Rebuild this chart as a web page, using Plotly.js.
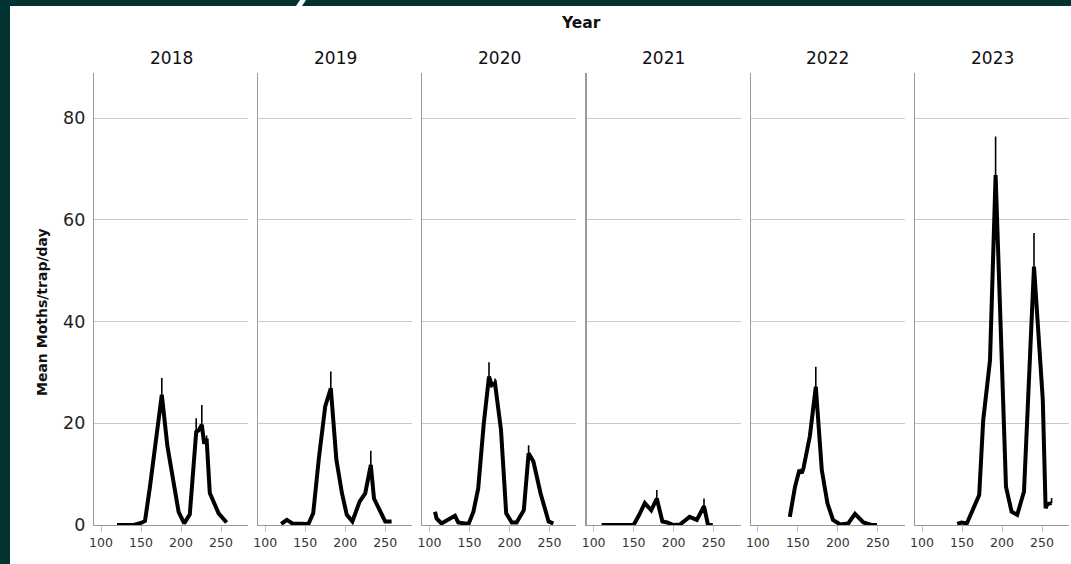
<!DOCTYPE html>
<html>
<head>
<meta charset="utf-8">
<script src="https://cdn.plot.ly/plotly-3.0.1.min.js"></script>
<style>
  html, body { margin: 0; padding: 0; background: #ffffff; overflow: hidden; }
  #chart { width: 1071px; height: 564px; }
</style>
</head>
<body>
<div id="chart"></div>
<script>
// ---- Data ----
const years = ["2018", "2019", "2020", "2021", "2022", "2023"];

const day2018 = [120, 127, 134, 141, 150, 155, 161, 168, 176, 183, 190, 197, 204, 211, 219, 222, 226, 229, 232, 236, 247, 257];
const val2018 = [0, 0, 0, 0, 0.4, 0.8, 7.3, 16, 25.6, 15.5, 9, 2.6, 0.3, 2.1, 18.3, 18.6, 19.7, 16, 17, 6.3, 2.3, 0.5];
const err2018 = [0, 0, 0, 0, 0, 0, 0, 0, 3.3, 0, 0, 0, 0, 0, 2.7, 0, 3.9, 0, 0.6, 0, 0, 0];

const day2019 = [120, 127, 134, 141, 148, 154, 160, 167, 175, 182, 189, 196, 202, 209, 218, 225, 232, 236, 250, 258];
const val2019 = [0.2, 1.0, 0.3, 0.2, 0.2, 0.2, 2.3, 13, 23.3, 26.9, 12.8, 6.2, 2.0, 0.7, 4.6, 6.2, 11.8, 5.2, 0.7, 0.7];
const err2019 = [0, 0, 0, 0, 0, 0, 0, 0, 0, 3.3, 0, 0, 0, 0, 0, 0, 2.8, 0, 0, 0];

const day2020 = [107, 109, 115, 132, 136, 149, 155, 161, 168, 174.5, 178, 182, 189.5, 196, 203, 209, 218, 224, 230, 239, 249, 255];
const val2020 = [2.6, 1.3, 0.3, 1.8, 0.5, 0.2, 2.6, 7.2, 20, 29.2, 27.5, 27.9, 18.7, 2.3, 0.5, 0.5, 2.9, 14.1, 12.5, 6.2, 0.7, 0.3];
const err2020 = [0, 0, 0, 0, 0, 0, 0, 0, 0, 2.8, 0, 0.9, 0, 0, 0, 0, 0, 1.6, 0, 0, 0, 0];

const day2021 = [110, 120, 130, 140, 150, 157, 164, 172, 179, 186, 192, 200, 208, 220, 229, 238, 243, 249];
const val2021 = [0, 0, 0, 0, 0, 2.0, 4.3, 2.9, 5.2, 0.7, 0.5, 0, 0.1, 1.6, 1.0, 3.7, 0, 0];
const err2021 = [0, 0, 0, 0, 0, 0, 0, 0, 1.7, 0, 0, 0, 0, 0, 0, 1.5, 0, 0];

const day2022 = [140, 146.5, 152, 155, 157, 165, 172.5, 180, 187, 194, 203, 213, 221.5, 232, 242, 249];
const val2022 = [1.6, 7.5, 10.8, 10.2, 11.1, 17.4, 27.2, 10.8, 4.3, 1.0, 0.1, 0.3, 2.2, 0.5, 0, 0];
const err2022 = [0, 0, 0, 0.8, 0, 0, 3.9, 0, 0, 0, 0, 0, 0, 0, 0, 0];

const day2023 = [144, 149.5, 156, 162, 171.5, 176.5, 183, 185, 192, 205, 212, 219, 227.5, 240, 251, 254.5, 256.5, 262];
const val2023 = [0.2, 0.5, 0.3, 2.3, 5.9, 20.6, 28.5, 32.4, 68.8, 7.5, 2.6, 2.0, 6.6, 50.8, 24.6, 3.3, 4.1, 4.3];
const err2023 = [0, 0, 0, 0, 0, 0, 0, 0, 7.6, 0, 0, 0, 0, 6.6, 0, 0, 0, 1.0];

const xTicks = [100, 150, 200, 250];
const yTicks = [0, 20, 40, 60, 80];

const days = [day2018, day2019, day2020, day2021, day2022, day2023];
const vals = [val2018, val2019, val2020, val2021, val2022, val2023];
const errs = [err2018, err2019, err2020, err2021, err2022, err2023];

// ---- Layout geometry ----
const W = 1071, H = 564;
const panelLeft0 = 94, panelStep = 164.2, panelW = 154;
const yBottomPx = 525, yTopPx = 73;
const font = "DejaVu Sans, Verdana, sans-serif";

const traces = [];
const layout = {
  width: W, height: H,
  margin: {l: 0, r: 0, t: 0, b: 0},
  paper_bgcolor: "#ffffff",
  plot_bgcolor: "#ffffff",
  showlegend: false,
  font: {family: font, color: "#222222"},
  annotations: [],
  shapes: []
};

const yDomain = [(H - yBottomPx) / H, (H - yTopPx) / H];

years.forEach((yr, i) => {
  const sfx = i === 0 ? "" : String(i + 1);
  const x0 = panelLeft0 + i * panelStep;
  const dom = [x0 / W, (x0 + panelW) / W];
  traces.push({
    type: "scatter", mode: "lines",
    x: days[i], y: vals[i],
    xaxis: "x" + sfx, yaxis: "y" + sfx,
    line: {color: "#000000", width: 4},
    error_y: {type: "data", symmetric: false, array: errs[i],
              arrayminus: errs[i].map(() => 0),
              color: "#000000", thickness: 1.6, width: 0},
    hoverinfo: "skip"
  });
  layout["xaxis" + sfx] = {
    domain: dom, anchor: "y" + sfx,
    range: [91.25, 91.25 + panelW / 0.8],
    tickvals: xTicks, ticktext: xTicks.map(String),
    ticks: "outside", ticklen: 6, tickcolor: "#c4c4c4", tickwidth: 1,
    tickfont: {size: 12.5, color: "#333333", family: font},
    showgrid: false, zeroline: false,
    showline: true, linecolor: "#9a9a9a", linewidth: 1.2,
    fixedrange: true
  };
  layout["yaxis" + sfx] = {
    domain: yDomain, anchor: "x" + sfx,
    range: [0, (yBottomPx - yTopPx) / 5.085],
    tickvals: yTicks, ticktext: yTicks.map(String),
    showticklabels: i === 0,
    tickfont: {size: 17.5, color: "#222222", family: font},
    ticks: "", ticklabelstandoff: 4,
    showgrid: true, gridcolor: "#c9c9c9", gridwidth: 1,
    zeroline: false,
    showline: true, linecolor: "#9a9a9a", linewidth: 1.2,
    fixedrange: true
  };
  if (i > 0) layout["yaxis" + sfx].matches = "y";
  layout.annotations.push({
    text: yr, xref: "paper", yref: "paper",
    x: (x0 + panelW / 2) / W, y: (H - 58) / H,
    xanchor: "center", yanchor: "middle", showarrow: false,
    font: {size: 17, color: "#111111", family: font}
  });
});

// Overall titles
layout.annotations.push({
  text: "<b>Year</b>", xref: "paper", yref: "paper",
  x: 581 / W, y: (H - 23) / H, xanchor: "center", yanchor: "middle",
  showarrow: false, font: {size: 15.5, color: "#111111", family: font}
});
layout.annotations.push({
  text: "<b>Mean Moths/trap/day</b>", xref: "paper", yref: "paper",
  x: 42 / W, y: (H - 312) / H, xanchor: "center", yanchor: "middle",
  textangle: -90, showarrow: false,
  font: {size: 14, color: "#111111", family: font}
});

// Dark frame from the slide around the chart
const frame = "#023332";
layout.shapes.push({type: "rect", xref: "paper", yref: "paper", layer: "above",
  x0: 0, x1: 1, y0: (H - 6) / H, y1: 1, fillcolor: frame, line: {width: 0}});
layout.shapes.push({type: "rect", xref: "paper", yref: "paper", layer: "above",
  x0: 0, x1: 10 / W, y0: 0, y1: 1, fillcolor: frame, line: {width: 0}});
layout.shapes.push({type: "path", xref: "paper", yref: "paper", layer: "above",
  path: `M ${300 / W} 1 L ${306 / W} 1 L ${302 / W} ${(H - 6) / H} L ${296 / W} ${(H - 6) / H} Z`,
  fillcolor: "#ffffff", line: {width: 0}});

Plotly.newPlot("chart", traces, layout, {displayModeBar: false, staticPlot: true});
</script>
</body>
</html>
